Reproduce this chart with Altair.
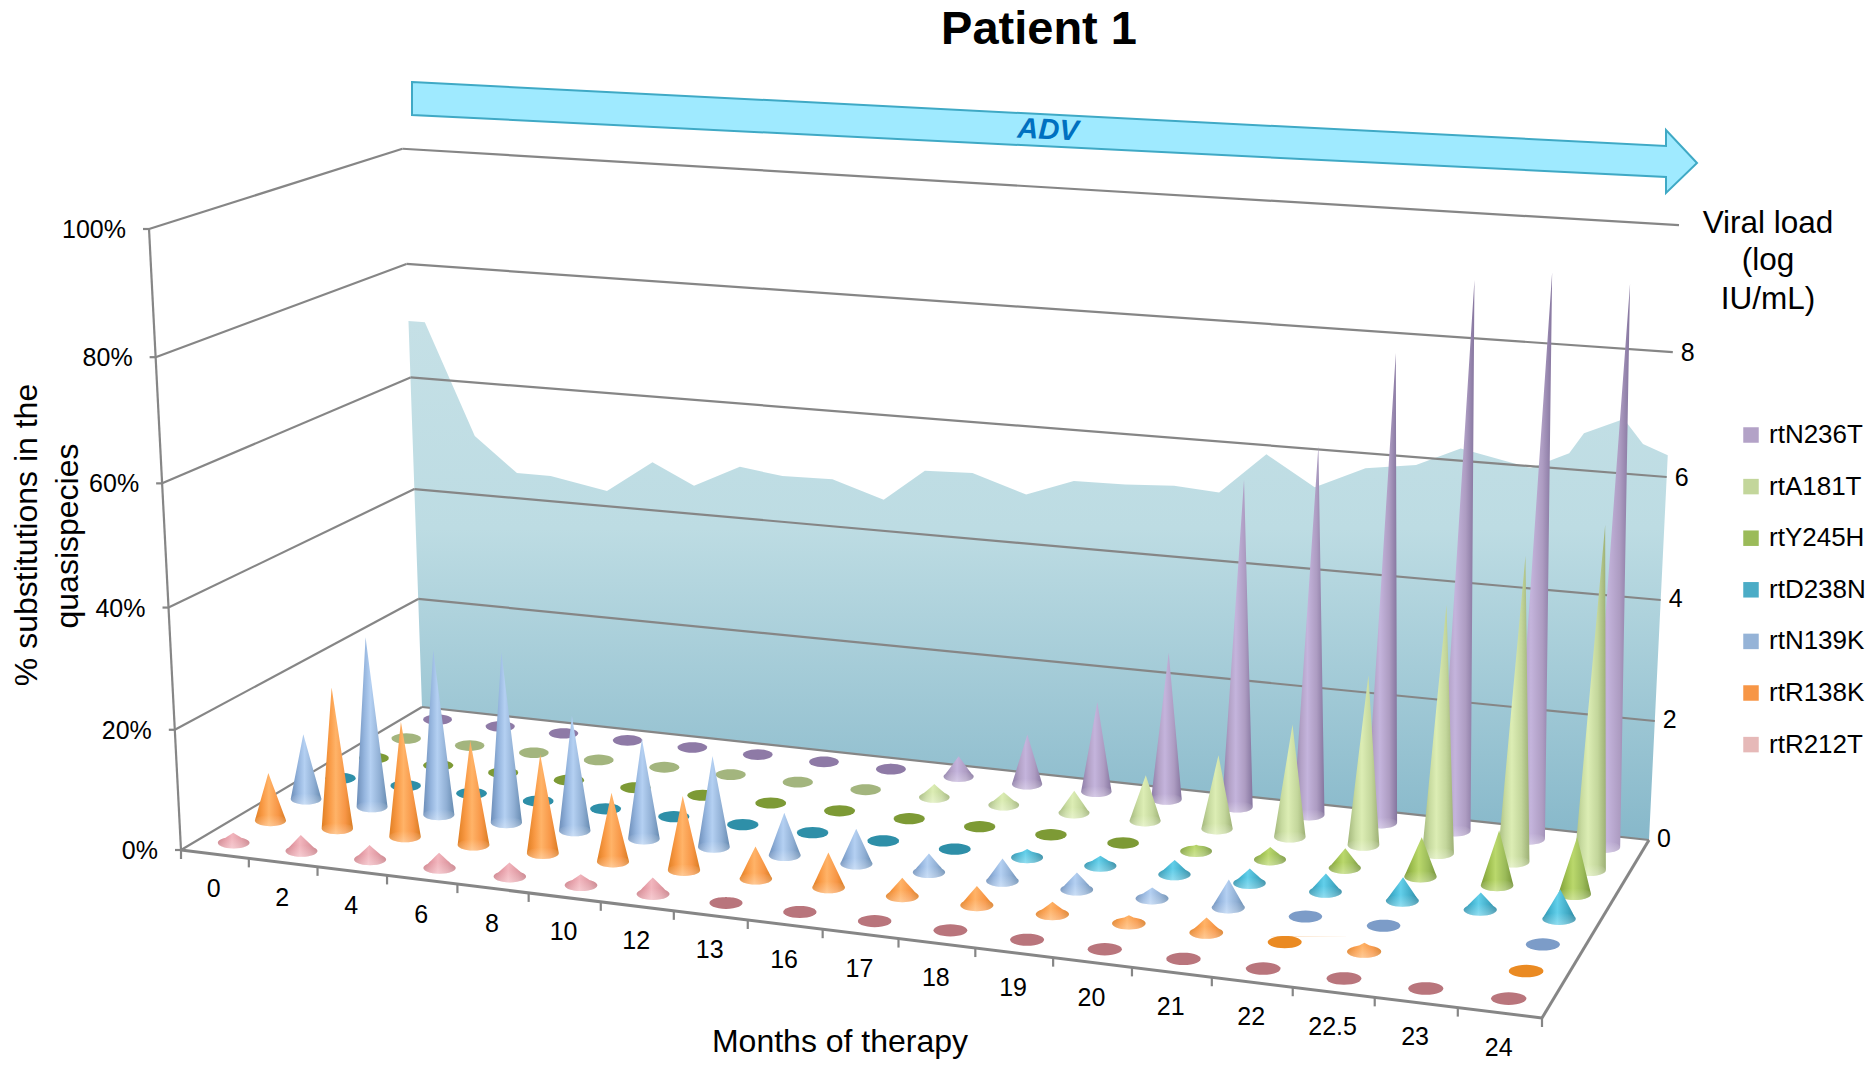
import numpy as np
import pandas as pd
import altair as alt

alt.data_transformers.disable_max_rows()

months = ["0","2","4","6","8","10","12","13","16","17","18","19","20","21","22","22.5","23","24"]
series = ["rtN236T","rtA181T","rtY245H","rtD238N","rtN139K","rtR138K","rtR212T"]
legend_colors = ["#B3A2C7","#C3D69B","#9BBB59","#4BACC6","#95B3D7","#F79646","#E6B9B8"]

rtR212T = [1.7,2.7,2.4,2.5,2.3,1.8,2.7,0.9,0.8,0,0,0.2,0,0,0,0,0,0]
rtR138K = [8.1,23.8,19.3,17.4,16.4,11.4,12.2,5.3,5.7,3,3.1,2,1.3,2.4,0.2,1.4,None,0]
rtN139K = [11.2,29,28,28.8,19.4,16.8,15.2,7.1,5.8,3.1,3.7,2.8,1.8,4.5,0.2,0.5,None,0]
rtD238N = [0,0,0,0,0,0,0,0,0,0.2,1.4,1.7,2.4,2.4,3.0,3.8,2.8,4.7]
rtY245H = [0,0,0,0,0,0,0,0,0,0,0,0,1.1,2.1,3.3,6.5,9.0,9.3]
rtA181T = [0,0,0,0,0,0,0,0,2.3,2.2,3.8,7.8,12.5,18.9,28.3,41,50,56]
rtN236T = [0,0,0,0,0,0,0,1,3.6,8.7,15.6,25.3,55.5,62,78,90.5,92.5,91.5]
values = [rtN236T,rtA181T,rtY245H,rtD238N,rtN139K,rtR138K,rtR212T]

# viral load along the back wall (fraction of wall, log IU/mL)
vl_pos = [0,.013,.05,.083,.11,.155,.192,.225,.262,.296,.336,.377,.41,.448,.491,.529,.57,.609,.645,.682,.721,.761,.801,.836,.892,.922,.933,.964,.98,1]
vl_val = [7.0,7.0,5.05,4.45,4.45,4.27,4.85,4.5,4.9,4.8,4.82,4.54,5.1,5.13,4.84,5.14,5.15,5.2,5.15,5.85,5.37,5.75,5.87,6.2,5.97,6.26,6.6,6.88,6.5,6.35]

pct_ticks = [0,20,40,60,80,100]
right_ticks = [0,2,4,6,8]

# shading (edge, mid, light, mid, edge) and flat-disc colours
cone_stops = {
 "rtN236T":["#8C7CA6","#B3A2C7","#C4B4DC","#AD9CC2","#85759E"],
 "rtA181T":["#A2B67A","#C8DBA0","#DCEDB4","#C3D69B","#9DB075"],
 "rtY245H":["#7C9A38","#9FC050","#BAD86C","#9BBB59","#76943A"],
 "rtD238N":["#2C8FAA","#45B5D2","#62CFEA","#42ABC6","#2A86A0"],
 "rtN139K":["#6C8DB8","#95B5DE","#B4D0F2","#90AFD4","#668AB0"],
 "rtR138K":["#E07E22","#F99A45","#FFB368","#F79646","#D87A20"],
 "rtR212T":["#CC7F88","#E59CA6","#F2B6BE","#E09AA3","#C67C85"],
}
disc_colors = {"rtN236T":"#8E7AA6","rtA181T":"#A3B57E","rtY245H":"#7D9A35","rtD238N":"#2E8FA8",
               "rtN139K":"#7C9CC8","rtR138K":"#EA8A22","rtR212T":"#B9757C"}

# ---- projection of the 3-D box
FL,FR,BR,BL = (181,850),(1542,1018),(1649,840),(422,707)
dx1,dx2,sx = FR[0]-BR[0], BL[0]-BR[0], FL[0]-FR[0]+BR[0]-BL[0]
dy1,dy2,sy = FR[1]-BR[1], BL[1]-BR[1], FL[1]-FR[1]+BR[1]-BL[1]
det = dx1*dy2-dx2*dy1
g = (sx*dy2-dx2*sy)/det
h = (dx1*sy-sx*dy1)/det
def floor(u,v):
    w = 1+g*u+h*v
    x = (FL[0]+(FR[0]-FL[0]+g*FR[0])*u+(BL[0]-FL[0]+h*BL[0])*v)/w
    y = (FL[1]+(FR[1]-FL[1]+g*FR[1])*u+(BL[1]-FL[1]+h*BL[1])*v)/w
    return x,y,w
def frac(val):
    t = val/100
    return t-.04*t*(1-t)
def lean(x):
    return (x-935)*.0000683
def height(w):
    return 621/w**.95
def proj(u,v,val):
    x,y,w = floor(u,v)
    H = height(w)
    fr = frac(val)
    return x+H*fr*lean(x), y-H*fr

# ---- structural lines
rules = []
for p in pct_ticks:
    a,b,c = proj(0,0,p),proj(0,1,p),proj(1,1,p)
    rules += [(*a,*b,2.2),(*b,*c,2.2)]
    rules.append((a[0]-6,a[1],a[0],a[1],2.2))
rules.append((*proj(0,0,0),*proj(0,0,100),2.2))
rules.append((*proj(0,0,0),*proj(1,0,0),3.0))
rules.append((*proj(1,0,0),*proj(1,1,0),3.0))
for i in range(len(months)+1):
    x,y,_ = floor(i/len(months),0)
    rules.append((x,y,x,y+9,2.2))
rules_df = pd.DataFrame(rules,columns=["x","y","x2","y2","w"])

xs = alt.Scale(domain=[8,1866],range=[0,1858],nice=False,zero=False)
ys = alt.Scale(domain=[8,1066],range=[0,1058],nice=False,zero=False)
X = alt.X("x:Q",scale=xs,axis=None)
Y = alt.Y("y:Q",scale=ys,axis=None)

layers = []

# ---- ADV arrow
arrow_top = [(412,82),(1666,146),(1666.01,130),(1697,163)]
arrow_bot = [(412,115),(1666,177),(1666.01,193),(1697,163)]
arrow_df = pd.DataFrame({"x":[p[0] for p in arrow_top],"y":[p[1] for p in arrow_top],"y2":[p[1] for p in arrow_bot]})
layers.append(alt.Chart(arrow_df).mark_area(color="#9FEAFF",stroke="#3FA9C5",strokeWidth=2,line=False)
              .encode(x=X,y=Y,y2="y2:Q"))

# ---- viral load wall
bl,br = floor(0,1),floor(1,1)
H0,H1 = height(bl[2]),height(br[2])
top_x,top_y = [],[]
for s,v in zip(vl_pos,vl_val):
    bx,by = bl[0]+s*(br[0]-bl[0]), bl[1]+s*(br[1]-bl[1])
    Hs = H0+s*(H1-H0)
    fr = frac(v*10)
    top_x.append(bx+Hs*fr*lean(bx)); top_y.append(by-Hs*fr)
xa = np.array(sorted(set(top_x+[bl[0],br[0]])))
ya = np.interp(xa,top_x,top_y)
yb = np.interp(xa,[top_x[0],bl[0],br[0],top_x[-1]],[top_y[0],bl[1],br[1],top_y[-1]])
wall_df = pd.DataFrame({"x":xa,"y":ya,"y2":yb})
layers.append(alt.Chart(wall_df).mark_area(color=alt.Gradient(gradient="linear",x1=0,x2=0,y1=0,y2=1,stops=[
    alt.GradientStop(offset=0,color="#C5E0E6"),alt.GradientStop(offset=.4,color="#BDDCE3"),alt.GradientStop(offset=1,color="#87B8CA")]))
    .encode(x=X,y=Y,y2="y2:Q"))

# ---- grid and box
layers.append(alt.Chart(rules_df).mark_rule(color="#868686").encode(x=X,y=Y,x2="x2:Q",y2="y2:Q",
              strokeWidth=alt.StrokeWidth("w:Q",scale=None)))

# ---- cones, back row first
def cone_rows(idx,u,v,val):
    bx,by,w = floor(u,v)
    a = 15.5/w*1.03
    b = a*.36
    tx,ty = proj(u,v,val)
    ell = by+b*np.sin(np.linspace(-np.pi/2,np.pi/2,15))
    rows = sorted(set([ty]+list(np.linspace(ty,by,5))+list(ell)))
    out = []
    for y in rows:
        hw = 0
        cx = bx
        if by>ty and y<=by:
            f = (y-ty)/(by-ty)
            hw = a*f
            cx = tx+(bx-tx)*f
        if abs(y-by)<=b:
            hw = max(hw,a*np.sqrt(max(0,1-((y-by)/b)**2)))
        out.append((idx,y,cx-hw,cx+hw))
    return out

def rim_rows(idx,u,v):
    bx,by,w = floor(u,v)
    a = 15.5/w*1.03
    b = a*.36
    ell = by+b*np.sin(np.linspace(-np.pi/2,np.pi/2,15))
    return [(idx,y,bx-a*np.sqrt(max(0,1-((y-by)/b)**2)),bx+a*np.sqrt(max(0,1-((y-by)/b)**2))) for y in ell]

rim = alt.Gradient(gradient="linear",x1=0,x2=0,y1=0,y2=1,stops=[
    alt.GradientStop(offset=0,color="rgba(255,255,255,0)"),alt.GradientStop(offset=1,color="rgba(255,255,255,0.3)")])

n = len(months)
for j,(name,vals) in enumerate(zip(series,values)):
    v = 1-(j+.5)/len(series)
    flat,cones,rims = [],[],[]
    for i,val in enumerate(vals):
        if val is None:
            continue
        u = (i+.5)/n
        if val<=1.0:
            flat.extend(cone_rows(i,u,v,val))
        else:
            cones.extend(cone_rows(i,u,v,val))
            rims.extend(rim_rows(i,u,v))
    if flat:
        d = pd.DataFrame(flat,columns=["m","y","x","x2"])
        layers.append(alt.Chart(d).mark_area(orient="horizontal",color=disc_colors[name])
                      .encode(y=Y,x=X,x2="x2:Q",detail="m:N"))
    if cones:
        d = pd.DataFrame(cones,columns=["m","y","x","x2"])
        st = cone_stops[name]
        grad = alt.Gradient(gradient="linear",x1=0,x2=1,y1=0,y2=0,stops=[
            alt.GradientStop(offset=o,color=c) for o,c in zip([0,.25,.45,.75,1],st)])
        layers.append(alt.Chart(d).mark_area(orient="horizontal",color=grad)
                      .encode(y=Y,x=X,x2="x2:Q",detail="m:N"))
        d2 = pd.DataFrame(rims,columns=["m","y","x","x2"])
        layers.append(alt.Chart(d2).mark_area(orient="horizontal",color=rim)
                      .encode(y=Y,x=X,x2="x2:Q",detail="m:N"))

# ---- text
def text(rows,size,**kw):
    d = pd.DataFrame(rows,columns=["x","y","t"])
    args = dict(font="Liberation Sans",fontSize=size,color="#000000",baseline="middle",align="center")
    args.update(kw)
    return alt.Chart(d).mark_text(**args).encode(x=X,y=Y,text="t:N")

tick_rows = []
for i,m in enumerate(months):
    x,y,_ = floor((i+.5)/n,0)
    tick_rows.append((x-1,y+35,m))
layers.append(text(tick_rows,25))
pct_rows = []
for p in pct_ticks:
    x,y = proj(0,0,p)
    pct_rows.append((x-23,y+1,f"{p}%"))
layers.append(text(pct_rows,25,align="right"))
right_rows = []
for r in right_ticks:
    x,y = proj(1,1,r*10)
    right_rows.append((x+15,y+(1 if r>=6 else -1),str(r)))
layers.append(text(right_rows,25))
layers.append(text([(1039,30,"Patient 1")],47,fontWeight="bold"))
layers.append(text([(840,1042,"Months of therapy")],32))
layers.append(text([(1768,224,"Viral load"),(1768,261,"(log"),(1768,300,"IU/mL)")],31.5))
layers.append(text([(27,535,"% substitutions in the"),(68,536,"quasispecies")],32,angle=270))
layers.append(text([(1048,130,"ADV")],29,color="#0070C0",fontWeight="bold",fontStyle="italic",angle=3))

# ---- legend
leg = pd.DataFrame({"s":series})
layers.append(alt.Chart(leg).mark_square(size=0).encode(
    x=alt.value(0),y=alt.value(0),
    color=alt.Color("s:N",scale=alt.Scale(domain=series,range=legend_colors),
        legend=alt.Legend(title=None,orient="none",legendX=1730,legendY=414,symbolType="square",symbolSize=240,
            labelFont="Liberation Sans",labelFontSize=26,labelColor="#000000",rowPadding=25.6,labelOffset=5,
            symbolStrokeWidth=0,symbolOpacity=1))))

chart = alt.layer(*layers).properties(width=1858,height=1058,padding=0,autosize=alt.AutoSizeParams(type="none"),background="#FFFFFF").configure_view(stroke=None)
chart.save("out.html",embed_options={"renderer":"svg","actions":False})
